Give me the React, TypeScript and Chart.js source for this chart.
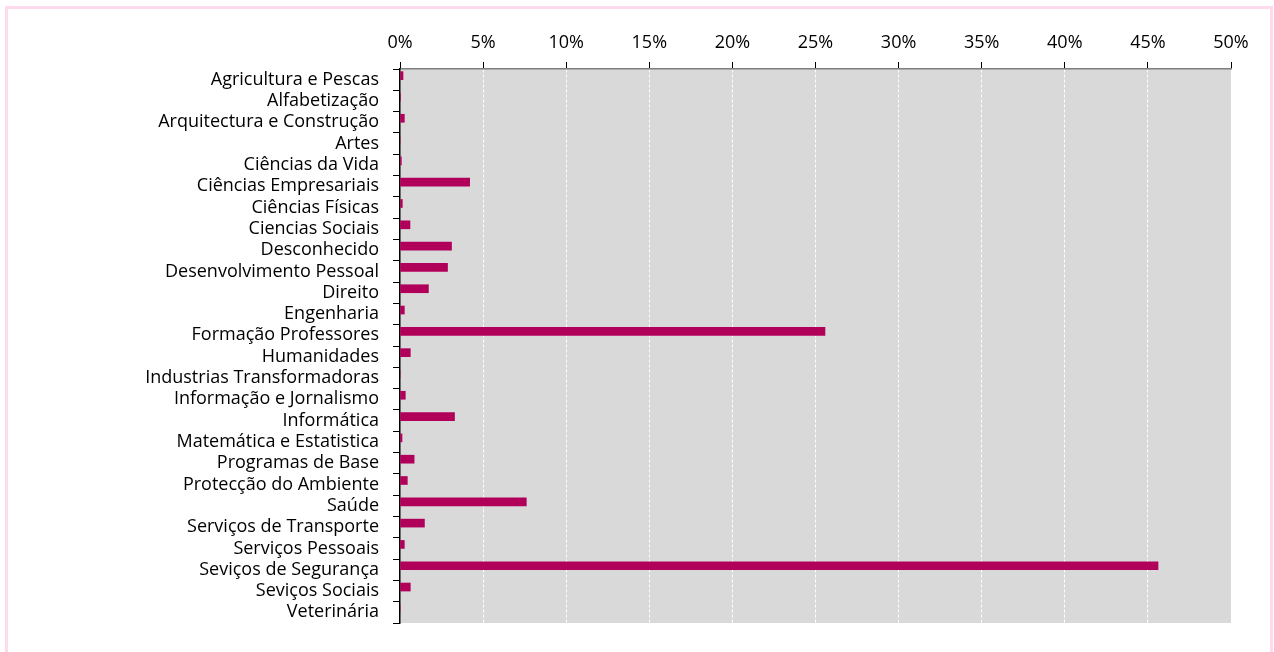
import React, { useEffect, useRef } from "react";
import { Chart, registerables } from "chart.js";

Chart.register(...registerables);

const categories = [
  "Agricultura e Pescas",
  "Alfabetização",
  "Arquitectura e Construção",
  "Artes",
  "Ciências da Vida",
  "Ciências Empresariais",
  "Ciências Físicas",
  "Ciencias Sociais",
  "Desconhecido",
  "Desenvolvimento Pessoal",
  "Direito",
  "Engenharia",
  "Formação Professores",
  "Humanidades",
  "Industrias Transformadoras",
  "Informação e Jornalismo",
  "Informática",
  "Matemática e Estatistica",
  "Programas de Base",
  "Protecção do Ambiente",
  "Saúde",
  "Serviços de Transporte",
  "Serviços Pessoais",
  "Seviços de Segurança",
  "Seviços Sociais",
  "Veterinária",
];

const shares = [
  0.0018, 0.0003, 0.0026, 0.0, 0.0008, 0.0419, 0.0014, 0.006, 0.031, 0.0286,
  0.0171, 0.0026, 0.2557, 0.0062, 0.0, 0.0032, 0.0328, 0.0012, 0.0085, 0.0044,
  0.076, 0.0147, 0.0026, 0.4561, 0.0062, 0.0,
];

// second (empty) series that shares each category slot
const emptySeries = categories.map(() => null);

const xTicks = [0, 0.05, 0.1, 0.15, 0.2, 0.25, 0.3, 0.35, 0.4, 0.45, 0.5];

const FONT = "'Open Sans', sans-serif";

export default function App() {
  const ref = useRef<HTMLCanvasElement | null>(null);

  useEffect(() => {
    document.body.style.margin = "0";
    document.body.style.overflow = "hidden";
    const canvas = ref.current;
    if (!canvas) return;
    const bgPlugin = {
      id: "plotBg",
      beforeDraw(chart: any) {
        const { ctx, chartArea } = chart;
        ctx.save();
        ctx.fillStyle = "#d9d9d9";
        ctx.fillRect(
          chartArea.left,
          chartArea.top,
          chartArea.right - chartArea.left,
          chartArea.bottom - chartArea.top
        );
        ctx.restore();
      },
    };
    const chart = new Chart(canvas, {
      type: "bar",
      data: {
        labels: categories,
        datasets: [
          {
            data: shares,
            backgroundColor: "#b0005a",
            borderWidth: 0,
            barThickness: 8,
          },
          {
            data: emptySeries,
            backgroundColor: "rgba(0,0,0,0)",
            borderWidth: 0,
            barThickness: 8,
          },
        ],
      },
      options: {
        indexAxis: "y",
        animation: false,
        responsive: false,
        maintainAspectRatio: false,
        layout: { padding: { left: 0, top: 0, right: 43, bottom: 29 } },
        plugins: {
          legend: { display: false },
          tooltip: { enabled: false },
        },
        scales: {
          x: {
            position: "top",
            min: 0,
            max: 0.5,
            afterBuildTicks: (s: any) => {
              s.ticks = xTicks.map((v) => ({ value: v }));
            },
            afterFit: (s: any) => {
              s.height = 69;
            },
            ticks: {
              callback: (v: any) => Math.round(Number(v) * 100) + "%",
              color: "#000",
              font: { family: FONT, size: 18 },
              padding: 8,
              maxRotation: 0,
            },
            grid: {
              color: (c: any) => (c.index === 0 ? "rgba(0,0,0,0)" : "#ffffff"),
              lineWidth: 1,
              tickColor: "#000",
              tickLength: 7,
            },
            border: { color: "#7f7f7f", width: 1.5, dash: [3, 2] },
          },
          y: {
            afterFit: (s: any) => {
              s.width = 400;
            },
            ticks: {
              color: "#000",
              font: { family: FONT, size: 18 },
              padding: 14,
              autoSkip: false,
            },
            grid: {
              offset: true,
              drawOnChartArea: false,
              tickColor: "#000",
              tickLength: 7,
            },
            border: { color: "#000", width: 1.5 },
          },
        },
      },
      plugins: [bgPlugin],
    });
    return () => chart.destroy();
  }, []);

  return (
    <div style={{ position: "relative", width: 1274, height: 652, overflow: "hidden" }}>
      <div
        style={{
          position: "absolute",
          left: 5,
          top: 6,
          width: 1262,
          height: 660,
          border: "3px solid #ffd9ec",
          boxSizing: "content-box",
        }}
      />
      <canvas
        ref={ref}
        width={1274}
        height={652}
        style={{ position: "absolute", left: 0, top: 0 }}
      />
    </div>
  );
}
